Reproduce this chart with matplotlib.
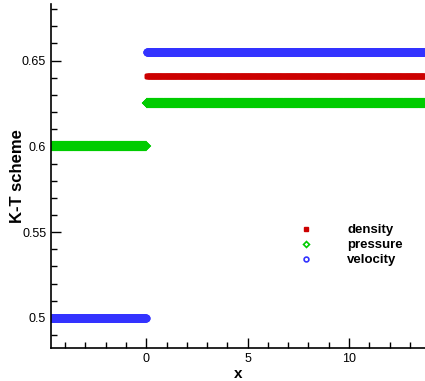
import numpy as np
import matplotlib.pyplot as plt

plt.rcParams['font.family'] = ['Liberation Sans', 'DejaVu Sans']

# left / right states of the Riemann problem (x < 0 | x > 0)
density_state = [0.5, 0.641]
pressure_state = [0.6, 0.625]
velocity_state = [0.5, 0.655]

x_min, x_max = -4.7, 13.75
x = np.arange(x_min, x_max, 0.02)

def profile(state):
    return np.where(x <= 0, state[0], state[1])

fig = plt.figure(figsize=(4.25, 3.81), dpi=100)
ax = fig.add_axes([0.12, 0.0866, 0.88, 0.903])

ax.plot(x, profile(density_state), ls='none', marker='s', ms=3.2,
        mfc='#cc0000', mec='#cc0000', label='density')
ax.plot(x, profile(pressure_state), ls='none', marker='D', ms=4.0,
        mfc='none', mec='#00cc00', mew=1.2, label='pressure')
ax.plot(x, profile(velocity_state), ls='none', marker='o', ms=4.6,
        mfc='none', mec='#3333ff', mew=1.2, label='velocity')

ax.set_xlim(x_min, x_max)
ax.set_ylim(0.4825, 0.683)
ax.set_xticks([0, 5, 10])
ax.set_xticks(np.arange(-4, 14, 1), minor=True)
ax.set_yticks([0.5, 0.55, 0.6, 0.65])
ax.set_yticks(np.arange(0.49, 0.685, 0.01), minor=True)
ax.set_yticklabels(['0.5', '0.55', '0.6', '0.65'])

for side in ['top', 'right']:
    ax.spines[side].set_visible(False)
for side in ['left', 'bottom']:
    ax.spines[side].set_linewidth(1.2)
ax.tick_params(which='both', direction='in', labelsize=9, width=1)
ax.tick_params(which='major', length=7)
ax.tick_params(which='minor', length=4)

ax.set_xlabel('x', fontsize=11, fontweight='bold', labelpad=1.5)
ax.set_ylabel('K-T scheme', fontsize=12, fontweight='bold', labelpad=-2)

leg = ax.legend(loc='upper left', bbox_to_anchor=(0.665, 0.36), frameon=False,
                prop={'weight': 'bold', 'size': 9.5}, markerscale=0.75,
                handlelength=1.0, handletextpad=2.6, labelspacing=0.2,
                borderpad=0, borderaxespad=0)

fig.savefig('out.png', dpi=100)
